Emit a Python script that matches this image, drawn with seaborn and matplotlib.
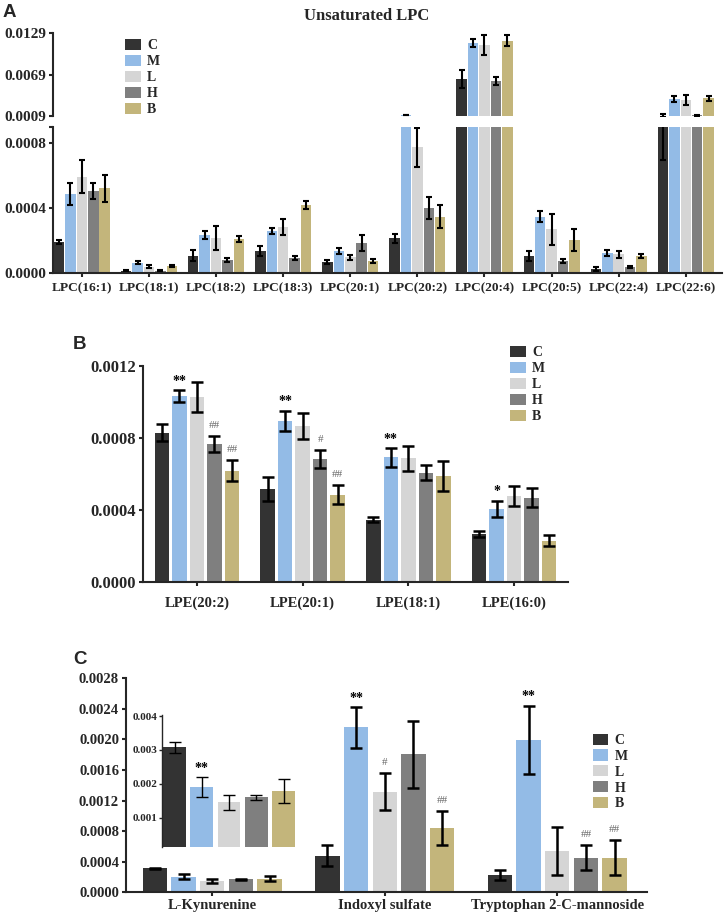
import numpy as np
import pandas as pd
import matplotlib
matplotlib.use("Agg")
import matplotlib.pyplot as plt
from matplotlib.patches import Patch
import seaborn as sns

groups = ["C", "M", "L", "H", "B"]
palette = ["#333333", "#93bbe6", "#d5d5d5", "#7f7f7f", "#c3b57b"]

# panel A - unsaturated LPC (rows = groups C, M, L, H, B)
lpc_cats = ["LPC(16:1)", "LPC(18:1)", "LPC(18:2)", "LPC(18:3)", "LPC(20:1)",
            "LPC(20:2)", "LPC(20:4)", "LPC(20:5)", "LPC(22:4)", "LPC(22:6)"]
lpc_mean = [
    [0.000194, 0.000016, 0.000107, 0.000139, 0.000071, 0.000215, 0.00625, 0.000107, 0.000026, 0.00092],
    [0.000488, 0.000065, 0.000236, 0.000260, 0.000137, 0.00102, 0.01150, 0.000348, 0.000127, 0.00336],
    [0.000595, 0.000040, 0.000215, 0.000283, 0.000098, 0.000775, 0.01117, 0.000271, 0.000117, 0.00321],
    [0.000506, 0.000015, 0.000082, 0.000096, 0.000185, 0.000400, 0.00600, 0.000078, 0.000040, 0.00098],
    [0.000523, 0.000045, 0.000211, 0.000420, 0.000076, 0.000348, 0.01179, 0.000205, 0.000107, 0.00346],
]
lpc_err = [
    [0.000012, 0.000005, 0.000034, 0.000032, 0.000012, 0.000029, 0.00137, 0.000030, 0.000010, 0.00022],
    [0.000065, 0.000010, 0.000023, 0.000020, 0.000020, 0.000030, 0.00060, 0.000033, 0.000018, 0.00048],
    [0.000100, 0.000010, 0.000074, 0.000048, 0.000015, 0.000118, 0.00145, 0.000094, 0.000023, 0.00068],
    [0.000048, 0.000005, 0.000012, 0.000012, 0.000049, 0.000067, 0.00055, 0.000012, 0.000006, 0.00005],
    [0.000084, 0.000005, 0.000020, 0.000027, 0.000015, 0.000072, 0.00080, 0.000066, 0.000010, 0.00036],
]

# panel B - LPE
lpe_cats = ["LPE(20:2)", "LPE(20:1)", "LPE(18:1)", "LPE(16:0)"]
lpe_mean = [
    [0.000828, 0.000513, 0.000343, 0.000265],
    [0.001033, 0.000893, 0.000691, 0.000404],
    [0.001024, 0.000865, 0.000686, 0.000478],
    [0.000765, 0.000680, 0.000606, 0.000467],
    [0.000617, 0.000482, 0.000589, 0.000228],
]
lpe_err = [
    [0.000048, 0.000067, 0.000014, 0.000016],
    [0.000032, 0.000058, 0.000051, 0.000047],
    [0.000083, 0.000074, 0.000069, 0.000055],
    [0.000043, 0.000049, 0.000043, 0.000051],
    [0.000058, 0.000053, 0.000083, 0.000032],
]
lpe_marks = [("LPE(20:2)", "M", "**"), ("LPE(20:2)", "H", "##"), ("LPE(20:2)", "B", "##"),
             ("LPE(20:1)", "M", "**"), ("LPE(20:1)", "H", "#"), ("LPE(20:1)", "B", "##"),
             ("LPE(18:1)", "M", "**"), ("LPE(16:0)", "M", "*")]

# panel C - other metabolites
met_cats = ["L-Kynurenine", "Indoxyl sulfate", "Tryptophan 2-C-mannoside"]
met_mean = [
    [0.000314, 0.000479, 0.000226],
    [0.000204, 0.002159, 0.001993],
    [0.000152, 0.001316, 0.000540],
    [0.000170, 0.001806, 0.000453],
    [0.000178, 0.000837, 0.000453],
]
met_err = [
    [0.000010, 0.000135, 0.000060],
    [0.000033, 0.000268, 0.000451],
    [0.000028, 0.000244, 0.000316],
    [0.000010, 0.000436, 0.000164],
    [0.000033, 0.000222, 0.000230],
]
met_marks = [("Indoxyl sulfate", "M", "**"), ("Indoxyl sulfate", "L", "#"),
             ("Indoxyl sulfate", "B", "##"), ("Tryptophan 2-C-mannoside", "M", "**"),
             ("Tryptophan 2-C-mannoside", "H", "##"), ("Tryptophan 2-C-mannoside", "B", "##")]

# inset of panel C (L-Kynurenine)
kyn_mean = [0.003077, 0.001915, 0.001454, 0.001600, 0.001797]
kyn_err = [0.00017, 0.000295, 0.00022, 0.000074, 0.00036]
kyn_marks = [("M", "**")]

sns.set_style("ticks")
plt.rcParams["font.family"] = ["Liberation Serif", "DejaVu Serif"]
plt.rcParams["font.weight"] = "bold"
plt.rcParams["axes.linewidth"] = 1.5
plt.rcParams["xtick.major.width"] = 1.5
plt.rcParams["ytick.major.width"] = 1.5
plt.rcParams["xtick.major.size"] = 3
plt.rcParams["ytick.major.size"] = 3

W, H = 726, 915


def box(left, top, right, bottom):
    return [left / W, 1 - bottom / H, (right - left) / W, (bottom - top) / H]


def long_table(cats, means, errs):
    rows = []
    for g, m_row, e_row in zip(groups, means, errs):
        for c, m, e in zip(cats, m_row, e_row):
            rows.append({"cat": c, "grp": g, "mean": m, "err": e})
    return pd.DataFrame(rows)


def draw_bars(ax, df, cats, width, gap, ebar, lo=None):
    sns.barplot(data=df, x="cat", y="mean", hue="grp", order=cats, hue_order=groups,
                palette=palette, saturation=1, width=width, gap=gap, errorbar=None,
                legend=False, linewidth=0, ax=ax)
    pos = {}
    bars = list(ax.containers)
    for g, cont in zip(groups, bars):
        sub = df[df.grp == g].set_index("cat").loc[cats]
        xs = np.array([b.get_x() + b.get_width() / 2 for b in cont])
        keep = np.ones(len(cats), bool) if lo is None else (sub["mean"] + sub["err"]).values > lo
        ax.errorbar(xs[keep], sub["mean"].values[keep], yerr=sub["err"].values[keep],
                    fmt="none", ecolor="black", **ebar)
        for c, x, top in zip(cats, xs, sub["mean"] + sub["err"]):
            pos[(c, g)] = (x, top)
    return pos


def mark(ax, x, y, text):
    if "*" in text:
        ax.annotate(text, (x, y), xytext=(0, 1.5), textcoords="offset points",
                    ha="center", va="bottom", fontsize=10, color="black")
    else:
        ax.annotate(text, (x, y), xytext=(0, 4.5), textcoords="offset points",
                    ha="center", va="bottom", fontsize=8, color="#666666",
                    fontweight="normal")


def fmt_y(ax, ticks, size, digits=4):
    ax.set_yticks(ticks)
    ax.set_yticklabels([f"{t:.{digits}f}" for t in ticks], fontsize=size)
    ax.tick_params(axis="y", pad=2)


fig = plt.figure(figsize=(W / 100, H / 100), dpi=100)

# ---- panel A (broken axis)
lpc_df = long_table(lpc_cats, lpc_mean, lpc_err)
ebar_a = dict(elinewidth=1.5, capsize=2.5, capthick=1.5)
ax_top = fig.add_axes(box(53, 33, 722, 116))
ax_bot = fig.add_axes(box(53, 127, 722, 273.3))
draw_bars(ax_top, lpc_df, lpc_cats, 0.85, 0.08, ebar_a, lo=0.00095)
draw_bars(ax_bot, lpc_df, lpc_cats, 0.85, 0.08, ebar_a)
for ax in (ax_top, ax_bot):
    ax.set_xlim(-0.43, 9.54)
    ax.set_xlabel("")
    ax.set_ylabel("")
    sns.despine(ax=ax)
ax_top.set_ylim(0.0009, 0.0129)
fmt_y(ax_top, [0.0009, 0.0069, 0.0129], 11)
ax_top.spines["bottom"].set_visible(False)
ax_top.tick_params(axis="x", bottom=False, labelbottom=False)
ax_bot.set_ylim(0, 0.0009)
ax_bot.set_yticks([0, 0.0004, 0.0008, 0.0009])
ax_bot.set_yticklabels(["0.0000", "0.0004", "0.0008", ""], fontsize=11)
ax_bot.tick_params(axis="y", pad=2)
ax_bot.tick_params(axis="x", labelsize=9.6)
fig.text(367 / W, 1 - 8 / H, "Unsaturated LPC", ha="center", va="top", fontsize=12)

# ---- panel B
lpe_df = long_table(lpe_cats, lpe_mean, lpe_err)
ax_b = fig.add_axes(box(143, 365.7, 568, 581.7))
pos_b = draw_bars(ax_b, lpe_df, lpe_cats, 0.83, 0.17,
                  dict(elinewidth=1.8, capsize=4.3, capthick=1.8))
ax_b.set_xlim(-0.51, 3.51)
ax_b.set_ylim(0, 0.0012)
fmt_y(ax_b, [0, 0.0004, 0.0008, 0.0012], 12)
ax_b.tick_params(axis="x", labelsize=10.5, pad=8)
ax_b.set_xlabel("")
ax_b.set_ylabel("")
sns.despine(ax=ax_b)
for c, g, t in lpe_marks:
    mark(ax_b, *pos_b[(c, g)], t)

# ---- panel C
met_df = long_table(met_cats, met_mean, met_err)
ax_c = fig.add_axes(box(126, 678.3, 647, 892.3))
pos_c = draw_bars(ax_c, met_df, met_cats, 0.83, 0.15,
                  dict(elinewidth=1.8, capsize=4.3, capthick=1.8))
ax_c.set_xlim(-0.5, 2.52)
ax_c.set_ylim(0, 0.0028)
fmt_y(ax_c, np.arange(0, 0.00281, 0.0004), 10.5)
ax_c.tick_params(axis="x", labelsize=10.5, pad=2)
ax_c.set_xlabel("")
ax_c.set_ylabel("")
sns.despine(ax=ax_c)
for c, g, t in met_marks:
    mark(ax_c, *pos_c[(c, g)], t)

# inset
kyn_df = pd.DataFrame({"grp": groups, "mean": kyn_mean, "err": kyn_err})
ax_in = fig.add_axes(box(162, 715, 298, 847))
ax_in.patch.set_alpha(0)
sns.barplot(data=kyn_df, x="grp", y="mean", hue="grp", order=groups, hue_order=groups,
            palette=palette, saturation=1, width=0.84, errorbar=None, legend=False,
            linewidth=0, ax=ax_in)
for g, cont in zip(groups, list(ax_in.containers)):
    row = kyn_df[kyn_df.grp == g].iloc[0]
    b = cont[0]
    x = b.get_x() + b.get_width() / 2
    ax_in.errorbar([x], [row["mean"]], yerr=[row["err"]], fmt="none", ecolor="black",
                   elinewidth=1.0, capsize=4.5, capthick=1.0)
    for gg, t in kyn_marks:
        if gg == g:
            mark(ax_in, x, row["mean"] + row["err"], t)
ax_in.set_xlim(-0.46, 4.53)
ax_in.set_ylim(0.00014, 0.00403)
fmt_y(ax_in, [0.001, 0.002, 0.003, 0.004], 8, digits=3)
ax_in.tick_params(axis="y", width=1.0, length=2.5, pad=1)
ax_in.spines["left"].set_linewidth(1.0)
ax_in.tick_params(axis="x", bottom=False, labelbottom=False)
ax_in.set_xlabel("")
ax_in.set_ylabel("")
sns.despine(ax=ax_in, bottom=True)

# ---- legends
handles = [Patch(facecolor=c, edgecolor="none") for c in palette]
for x0, y0 in [(125, 39), (510, 346), (592.5, 733.5)]:
    fig.legend(handles, groups, loc="upper left", bbox_to_anchor=(x0 / W, 1 - y0 / H),
               frameon=False, borderpad=0, borderaxespad=0, handlelength=1.15,
               handleheight=0.86, handletextpad=0.45, labelspacing=0.18,
               prop={"family": "Liberation Serif", "weight": "bold", "size": 10})

# ---- panel letters
for letter, x0, y0 in [("A", 3, 4), ("B", 73, 336), ("C", 73, 651)]:
    fig.text(x0 / W, 1 - y0 / H, letter, ha="left", va="top", fontsize=13.5,
             family="Liberation Sans", fontweight="bold")

fig.savefig("out.png", dpi=100)
